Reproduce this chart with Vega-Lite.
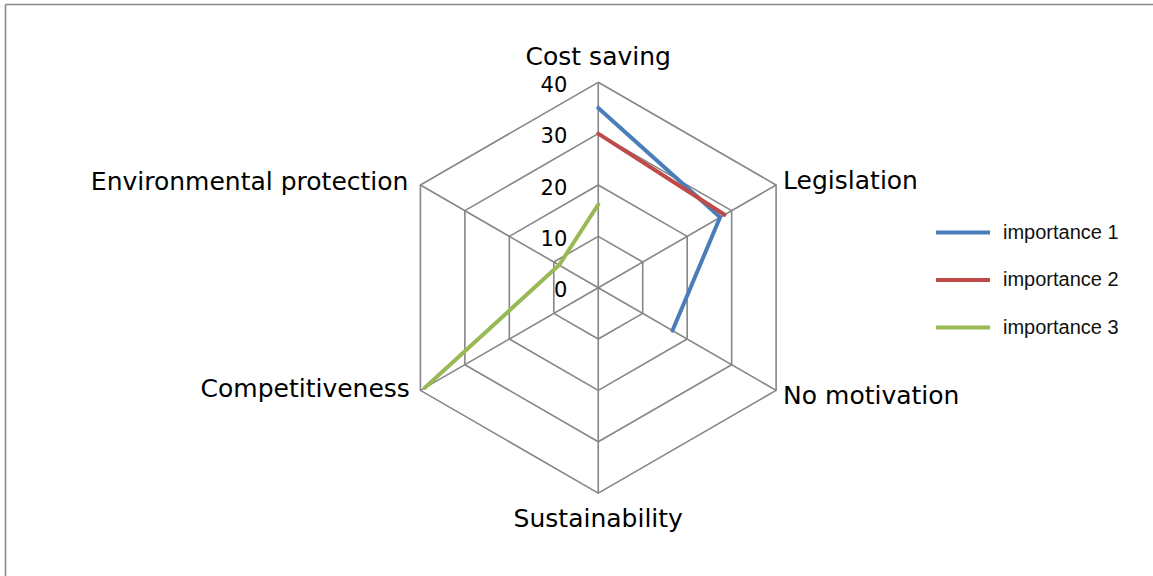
{
  "$schema": "https://vega.github.io/schema/vega-lite/v6.json",
  "width": 1148,
  "height": 572,
  "autosize": "none",
  "padding": {"left": 5, "top": 4, "right": 0, "bottom": 0},
  "background": "white",
  "config": {
    "view": {"stroke": null},
    "axis": {"domainColor": "#898989", "domainWidth": 1.6, "labels": false, "ticks": false, "grid": false, "title": null}
  },
  "datasets": {
    "scores": [
      {"series": "importance 1", "cat": "Cost saving", "value": 35},
      {"series": "importance 1", "cat": "Legislation", "value": 27.4},
      {"series": "importance 1", "cat": "No motivation", "value": 16.7},
      {"series": "importance 2", "cat": "Cost saving", "value": 30},
      {"series": "importance 2", "cat": "Legislation", "value": 28.4},
      {"series": "importance 3", "cat": "Cost saving", "value": 16.2},
      {"series": "importance 3", "cat": "Competitiveness", "value": 39},
      {"series": "importance 3", "cat": "Environmental protection", "value": 8.8}
    ],
    "categories": [
      {"cat": "Cost saving"},
      {"cat": "Legislation"},
      {"cat": "No motivation"},
      {"cat": "Sustainability"},
      {"cat": "Competitiveness"},
      {"cat": "Environmental protection"}
    ],
    "grid": [
      {"cat": "Cost saving", "level": 10}, {"cat": "Legislation", "level": 10}, {"cat": "No motivation", "level": 10}, {"cat": "Sustainability", "level": 10}, {"cat": "Competitiveness", "level": 10}, {"cat": "Environmental protection", "level": 10},
      {"cat": "Cost saving", "level": 20}, {"cat": "Legislation", "level": 20}, {"cat": "No motivation", "level": 20}, {"cat": "Sustainability", "level": 20}, {"cat": "Competitiveness", "level": 20}, {"cat": "Environmental protection", "level": 20},
      {"cat": "Cost saving", "level": 30}, {"cat": "Legislation", "level": 30}, {"cat": "No motivation", "level": 30}, {"cat": "Sustainability", "level": 30}, {"cat": "Competitiveness", "level": 30}, {"cat": "Environmental protection", "level": 30},
      {"cat": "Cost saving", "level": 40}, {"cat": "Legislation", "level": 40}, {"cat": "No motivation", "level": 40}, {"cat": "Sustainability", "level": 40}, {"cat": "Competitiveness", "level": 40}, {"cat": "Environmental protection", "level": 40}
    ],
    "ticks": [
      {"level": 0}, {"level": 10}, {"level": 20}, {"level": 30}, {"level": 40}
    ]
  },
  "encoding": {
    "x": {"field": "x", "type": "quantitative", "scale": {"domain": [-115.55, 108.05], "nice": false, "zero": false}, "axis": {"orient": "top"}},
    "y": {"field": "y", "type": "quantitative", "scale": {"domain": [-56.15, 55.25], "nice": false, "zero": false}, "axis": {"orient": "left"}}
  },
  "layer": [
    {
      "data": {"name": "grid"},
      "transform": [
        {"calculate": "indexof(['Cost saving','Legislation','No motivation','Sustainability','Competitiveness','Environmental protection'], datum.cat)", "as": "idx"},
        {"calculate": "datum.level * sin(datum.idx * PI / 3)", "as": "x"},
        {"calculate": "datum.level * cos(datum.idx * PI / 3)", "as": "y"}
      ],
      "mark": {"type": "line", "interpolate": "linear-closed", "color": "#868686", "strokeWidth": 1.6},
      "encoding": {
        "detail": {"field": "level", "type": "nominal"},
        "order": {"field": "idx", "type": "quantitative"}
      }
    },
    {
      "data": {"name": "grid"},
      "transform": [
        {"filter": "datum.level == 40"},
        {"calculate": "indexof(['Cost saving','Legislation','No motivation','Sustainability','Competitiveness','Environmental protection'], datum.cat)", "as": "idx"},
        {"calculate": "datum.level * sin(datum.idx * PI / 3)", "as": "x"},
        {"calculate": "datum.level * cos(datum.idx * PI / 3)", "as": "y"}
      ],
      "mark": {"type": "rule", "color": "#868686", "strokeWidth": 1.6},
      "encoding": {
        "x2": {"datum": 0},
        "y2": {"datum": 0}
      }
    },
    {
      "data": {"name": "scores"},
      "transform": [
        {"calculate": "indexof(['Cost saving','Legislation','No motivation','Sustainability','Competitiveness','Environmental protection'], datum.cat)", "as": "idx"},
        {"calculate": "datum.value * sin(datum.idx * PI / 3)", "as": "x"},
        {"calculate": "datum.value * cos(datum.idx * PI / 3)", "as": "y"},
        {
          "window": [
            {"op": "lead", "field": "idx", "as": "nidx"},
            {"op": "lead", "field": "x", "as": "nx"},
            {"op": "lead", "field": "y", "as": "ny"},
            {"op": "first_value", "field": "idx", "as": "fidx"},
            {"op": "first_value", "field": "x", "as": "fx"},
            {"op": "first_value", "field": "y", "as": "fy"}
          ],
          "groupby": ["series"],
          "sort": [{"field": "idx", "order": "ascending"}],
          "frame": [null, null]
        },
        {"calculate": "datum.nidx == null ? datum.fidx : datum.nidx", "as": "eidx"},
        {"calculate": "datum.nidx == null ? datum.fx : datum.nx", "as": "ex"},
        {"calculate": "datum.nidx == null ? datum.fy : datum.ny", "as": "ey"},
        {"filter": "(datum.eidx - datum.idx + 6) % 6 == 1"}
      ],
      "mark": {"type": "rule", "strokeWidth": 4, "strokeCap": "round"},
      "encoding": {
        "x2": {"field": "ex"},
        "y2": {"field": "ey"},
        "color": {
          "field": "series",
          "type": "nominal",
          "scale": {"domain": ["importance 1", "importance 2", "importance 3"], "range": ["#4a7ebb", "#be4b48", "#98b954"]},
          "legend": {
            "title": null,
            "orient": "none",
            "legendX": 929,
            "legendY": 199.5,
            "padding": 0,
            "symbolType": "stroke",
            "symbolSize": 2916,
            "symbolStrokeWidth": 4,
            "labelOffset": 11,
            "labelFont": "Liberation Sans",
            "labelFontSize": 20,
            "labelColor": "#111111",
            "rowPadding": 8.5
          }
        }
      }
    },
    {
      "data": {"name": "ticks"},
      "transform": [
        {"calculate": "0", "as": "x"},
        {"calculate": "datum.level", "as": "y"}
      ],
      "mark": {"type": "text", "align": "right", "baseline": "alphabetic", "dx": -31, "dy": 9.6, "font": "DejaVu Sans", "fontSize": 21, "color": "#000000"},
      "encoding": {"text": {"field": "level", "type": "quantitative"}}
    },
    {
      "data": {"name": "categories"},
      "transform": [
        {"filter": "datum.cat == 'Cost saving'"},
        {"calculate": "indexof(['Cost saving','Legislation','No motivation','Sustainability','Competitiveness','Environmental protection'], datum.cat)", "as": "idx"},
        {"calculate": "40 * sin(datum.idx * PI / 3)", "as": "x"},
        {"calculate": "40 * cos(datum.idx * PI / 3)", "as": "y"}
      ],
      "mark": {"type": "text", "align": "center", "baseline": "alphabetic", "dy": -17.3, "font": "DejaVu Sans", "fontSize": 25, "color": "#000000"},
      "encoding": {"text": {"field": "cat"}}
    },
    {
      "data": {"name": "categories"},
      "transform": [
        {"filter": "datum.cat == 'Legislation'"},
        {"calculate": "indexof(['Cost saving','Legislation','No motivation','Sustainability','Competitiveness','Environmental protection'], datum.cat)", "as": "idx"},
        {"calculate": "40 * sin(datum.idx * PI / 3)", "as": "x"},
        {"calculate": "40 * cos(datum.idx * PI / 3)", "as": "y"}
      ],
      "mark": {"type": "text", "align": "left", "baseline": "alphabetic", "dx": 7, "dy": 4.3, "font": "DejaVu Sans", "fontSize": 25, "color": "#000000"},
      "encoding": {"text": {"field": "cat"}}
    },
    {
      "data": {"name": "categories"},
      "transform": [
        {"filter": "datum.cat == 'No motivation'"},
        {"calculate": "indexof(['Cost saving','Legislation','No motivation','Sustainability','Competitiveness','Environmental protection'], datum.cat)", "as": "idx"},
        {"calculate": "40 * sin(datum.idx * PI / 3)", "as": "x"},
        {"calculate": "40 * cos(datum.idx * PI / 3)", "as": "y"}
      ],
      "mark": {"type": "text", "align": "left", "baseline": "alphabetic", "dx": 7, "dy": 13.6, "font": "DejaVu Sans", "fontSize": 25, "color": "#000000"},
      "encoding": {"text": {"field": "cat"}}
    },
    {
      "data": {"name": "categories"},
      "transform": [
        {"filter": "datum.cat == 'Sustainability'"},
        {"calculate": "indexof(['Cost saving','Legislation','No motivation','Sustainability','Competitiveness','Environmental protection'], datum.cat)", "as": "idx"},
        {"calculate": "40 * sin(datum.idx * PI / 3)", "as": "x"},
        {"calculate": "40 * cos(datum.idx * PI / 3)", "as": "y"}
      ],
      "mark": {"type": "text", "align": "center", "baseline": "alphabetic", "dy": 34.3, "font": "DejaVu Sans", "fontSize": 25, "color": "#000000"},
      "encoding": {"text": {"field": "cat"}}
    },
    {
      "data": {"name": "categories"},
      "transform": [
        {"filter": "datum.cat == 'Competitiveness'"},
        {"calculate": "indexof(['Cost saving','Legislation','No motivation','Sustainability','Competitiveness','Environmental protection'], datum.cat)", "as": "idx"},
        {"calculate": "40 * sin(datum.idx * PI / 3)", "as": "x"},
        {"calculate": "40 * cos(datum.idx * PI / 3)", "as": "y"}
      ],
      "mark": {"type": "text", "align": "right", "baseline": "alphabetic", "dx": -10.5, "dy": 6.3, "font": "DejaVu Sans", "fontSize": 25, "color": "#000000"},
      "encoding": {"text": {"field": "cat"}}
    },
    {
      "data": {"name": "categories"},
      "transform": [
        {"filter": "datum.cat == 'Environmental protection'"},
        {"calculate": "indexof(['Cost saving','Legislation','No motivation','Sustainability','Competitiveness','Environmental protection'], datum.cat)", "as": "idx"},
        {"calculate": "40 * sin(datum.idx * PI / 3)", "as": "x"},
        {"calculate": "40 * cos(datum.idx * PI / 3)", "as": "y"}
      ],
      "mark": {"type": "text", "align": "right", "baseline": "alphabetic", "dx": -12, "dy": 5, "font": "DejaVu Sans", "fontSize": 25, "color": "#000000"},
      "encoding": {"text": {"field": "cat"}}
    }
  ]
}
